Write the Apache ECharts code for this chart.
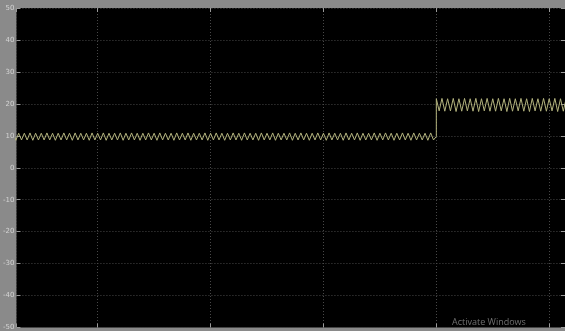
<!DOCTYPE html>
<html>
<head>
<meta charset="utf-8">
<script src="https://cdn.jsdelivr.net/npm/echarts@6/dist/echarts.min.js"></script>
<style>
  html, body { margin: 0; padding: 0; background: #8a8a8a; }
  #chart { width: 565px; height: 331px; }
</style>
</head>
<body>
<div id="chart"></div>
<script>
// scope trace, sampled every half period
var sampleStep = 0.025
var stepTime = 4.0

// before the step (t = 0 .. 4.0)
var preStep = [
  10.8, 8.7, 10.9, 8.7, 10.8, 8.6, 10.9, 8.7, 10.8, 8.7,
  10.9, 8.6, 10.8, 8.7, 10.8, 8.7, 10.9, 8.6, 10.8, 8.7,
  10.8, 8.7, 10.9, 8.7, 10.8, 8.6, 10.8, 8.7, 10.9, 8.7,
  10.8, 8.6, 10.9, 8.7, 10.8, 8.7, 10.8, 8.6, 10.9, 8.7,
  10.8, 8.7, 10.9, 8.6, 10.8, 8.7, 10.8, 8.7, 10.9, 8.6,
  10.8, 8.7, 10.9, 8.7, 10.8, 8.6, 10.8, 8.7, 10.9, 8.7,
  10.8, 8.6, 10.9, 8.7, 10.8, 8.7, 10.8, 8.6, 10.9, 8.7,
  10.8, 8.7, 10.9, 8.6, 10.8, 8.7, 10.8, 8.7, 10.9, 8.6,
  10.8, 8.7, 10.9, 8.7, 10.8, 8.6, 10.8, 8.7, 10.9, 8.7,
  10.8, 8.6, 10.9, 8.7, 10.8, 8.7, 10.8, 8.6, 10.9, 8.7,
  10.8, 8.7, 10.9, 8.6, 10.8, 8.7, 10.8, 8.7, 10.9, 8.6,
  10.8, 8.7, 10.9, 8.7, 10.8, 8.6, 10.8, 8.7, 10.9, 8.7,
  10.8, 8.6, 10.9, 8.7, 10.8, 8.7, 10.8, 8.6, 10.9, 8.7,
  10.8, 8.7, 10.9, 8.6, 10.8, 8.7, 10.8, 8.7, 10.9, 8.6,
  10.8, 8.7, 10.9, 8.7, 10.8, 8.6, 10.8, 8.7, 10.9, 8.7,
  10.8, 8.6, 10.9, 8.7, 10.8, 8.7, 10.8, 8.6, 10.9, 8.7,
  9.8
]

// after the step (t = 4.0 .. 5.2)
var postStep = [
  21.6, 17.8, 21.7, 17.7, 21.6, 17.8, 21.7, 17.6, 21.6, 17.7,
  21.7, 17.8, 21.6, 17.7, 21.7, 17.6, 21.6, 17.8, 21.7, 17.7,
  21.6, 17.7, 21.7, 17.8, 21.6, 17.6, 21.7, 17.7, 21.6, 17.8,
  21.7, 17.7, 21.6, 17.6, 21.7, 17.8, 21.6, 17.7, 21.7, 17.7,
  21.6, 17.8, 21.7, 17.6, 21.6, 17.7, 21.7, 17.8, 21.6
]

var yTicks = [50, 40, 30, 20, 10, 0, -10, -20, -30, -40, -50]

var trace = []
preStep.forEach(function (v, i) { trace.push([i * sampleStep, v]) })
postStep.forEach(function (v, i) { trace.push([stepTime + i * sampleStep, v]) })

var chart = echarts.init(document.getElementById('chart'))

var gridLine = { show: true, lineStyle: { color: '#484848', type: [1, 2], width: 1 } }
var tickIn = { show: true, inside: true, length: 4, lineStyle: { color: '#9a9a9a' } }

chart.setOption({
  backgroundColor: '#8a8a8a',
  animation: false,
  grid: {
    left: 12, top: 8, right: 0, bottom: 0,
    show: true, backgroundColor: '#000000', borderWidth: 0
  },
  xAxis: [
    {
      type: 'value', min: 0.28, max: 5.14, splitNumber: 5,
      axisLine: { show: false, onZero: false }, axisLabel: { show: false },
      axisTick: tickIn, splitLine: gridLine
    },
    {
      type: 'value', position: 'top', min: 0.28, max: 5.14, splitNumber: 5,
      axisLine: { show: false, onZero: false }, axisLabel: { show: false },
      axisTick: tickIn, splitLine: { show: false }
    }
  ],
  yAxis: [
    {
      type: 'value', min: -50, max: 50, interval: 10,
      axisLine: { show: false, onZero: false },
      axisTick: tickIn,
      axisLabel: {
        show: true, color: '#d4d4d4', fontSize: 7, margin: 2,
        fontFamily: 'DejaVu Sans',
        customValues: yTicks
      },
      splitLine: gridLine
    },
    {
      type: 'value', position: 'right', min: -50, max: 50, interval: 10,
      axisLine: { show: false, onZero: false }, axisLabel: { show: false },
      axisTick: tickIn, splitLine: { show: false }
    }
  ],
  series: [
    {
      type: 'line',
      data: trace,
      showSymbol: false,
      clip: true,
      lineStyle: { color: '#b4b47e', width: 1 }
    }
  ],
  graphic: [
    {
      type: 'text', left: 452, top: 318,
      style: { text: 'Activate Windows', fill: '#707070', fontSize: 9, fontFamily: 'Open Sans' }
    }
  ]
})
</script>
</body>
</html>
